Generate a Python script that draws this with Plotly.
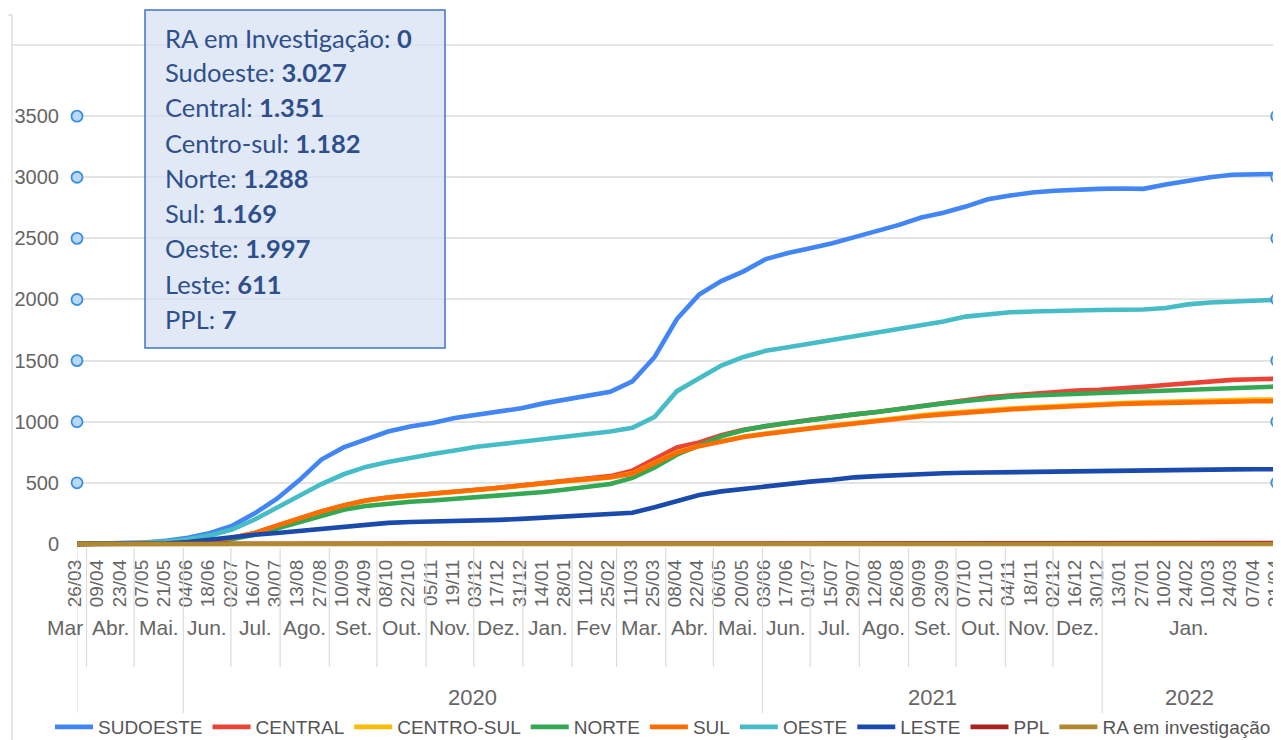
import plotly.graph_objects as go
import pandas as pd

# ---------------- data ----------------
dates = [
    "2020-03-26", "2020-04-09", "2020-04-23", "2020-05-07", "2020-05-21", "2020-06-04", "2020-06-18",
    "2020-07-02", "2020-07-16", "2020-07-30", "2020-08-13", "2020-08-27", "2020-09-10", "2020-09-24",
    "2020-10-08", "2020-10-22", "2020-11-05", "2020-11-19", "2020-12-03", "2020-12-17", "2020-12-31",
    "2021-01-14", "2021-01-28", "2021-02-11", "2021-02-25", "2021-03-11", "2021-03-25", "2021-04-08",
    "2021-04-22", "2021-05-06", "2021-05-20", "2021-06-03", "2021-06-17", "2021-07-01", "2021-07-15",
    "2021-07-29", "2021-08-12", "2021-08-26", "2021-09-09", "2021-09-23", "2021-10-07", "2021-10-21",
    "2021-11-04", "2021-11-18", "2021-12-02", "2021-12-16", "2021-12-30", "2022-01-13", "2022-01-27",
    "2022-02-10", "2022-02-24", "2022-03-10", "2022-03-24", "2022-04-07", "2022-04-21",
]

sudoeste = [0, 2, 5, 12, 25, 50, 90, 150, 250, 370,
            520, 690, 790, 860, 920, 960, 990, 1030, 1055, 1080,
            1110, 1150, 1180, 1210, 1245, 1330, 1530, 1840, 2040, 2150,
            2230, 2330, 2380, 2420, 2460, 2510, 2560, 2610, 2670, 2710,
            2760, 2820, 2850, 2875, 2890, 2900, 2905, 2908, 2905, 2940,
            2970, 3000, 3020, 3027, 3027]
central = [0, 1, 3, 6, 10, 15, 25, 50, 90, 150,
           210, 265, 315, 355, 380, 398, 410, 425, 443, 460,
           480, 500, 515, 535, 555, 600, 700, 790, 830, 890,
           935, 965, 990, 1015, 1040, 1060, 1080, 1105, 1130, 1155,
           1180, 1200, 1215, 1230, 1245, 1255, 1262, 1270, 1285, 1300,
           1315, 1330, 1342, 1348, 1351]
centro_sul = [0, 1, 3, 6, 10, 15, 25, 48, 88, 148,
              208, 263, 313, 353, 378, 396, 408, 423, 441, 458,
              478, 498, 513, 528, 543, 578, 658, 748, 803, 840,
              877, 903, 928, 950, 970, 990, 1012, 1037, 1053, 1068,
              1083, 1098, 1108, 1118, 1128, 1138, 1146, 1153, 1158, 1164,
              1170, 1175, 1178, 1181, 1182]
norte = [0, 1, 2, 4, 8, 12, 20, 40, 75, 125,
         180, 230, 280, 310, 330, 345, 355, 368, 377, 390,
         410, 425, 445, 465, 490, 540, 625, 730, 810, 880,
         930, 965, 990, 1015, 1040, 1060, 1080, 1105, 1130, 1150,
         1170, 1190, 1205, 1215, 1222, 1228, 1232, 1236, 1245, 1255,
         1265, 1273, 1280, 1285, 1288]
sul = [0, 1, 3, 6, 10, 15, 25, 50, 90, 150,
       210, 265, 315, 355, 380, 398, 410, 425, 443, 460,
       480, 500, 515, 530, 545, 575, 655, 745, 800, 840,
       875, 900, 925, 945, 965, 985, 1005, 1030, 1045, 1060,
       1075, 1090, 1100, 1110, 1120, 1130, 1138, 1145, 1150, 1155,
       1160, 1163, 1166, 1168, 1169]
oeste = [0, 2, 5, 10, 20, 40, 70, 120, 200, 300,
         400, 490, 570, 630, 670, 705, 735, 765, 795, 815,
         835, 860, 880, 900, 920, 950, 1040, 1250, 1360, 1460,
         1530, 1580, 1610, 1640, 1670, 1700, 1725, 1755, 1790, 1820,
         1860, 1880, 1895, 1902, 1908, 1912, 1914, 1916, 1918, 1930,
         1960, 1975, 1982, 1988, 1997]
leste = [0, 0, 1, 2, 4, 15, 35, 60, 75, 90,
         108, 125, 145, 160, 172, 180, 182, 185, 192, 197,
         205, 215, 225, 232, 240, 255, 300, 350, 400, 430,
         450, 470, 495, 510, 525, 545, 555, 565, 572, 578,
         582, 585, 587, 589, 590, 592, 600, 603, 605, 606,
         607, 608, 610, 611, 611]
ppl = [0, 0, 0, 0, 0, 0, 0, 0, 0, 0,
       0, 0, 1, 1, 1, 1, 1, 1, 1, 1,
       2, 2, 2, 2, 2, 2, 3, 3, 3, 3,
       4, 4, 4, 4, 4, 4, 5, 5, 5, 5,
       5, 5, 6, 6, 6, 6, 6, 6, 7, 7,
       7, 7, 7, 7, 7]
ra_investigacao = [0] * 55

y_ticks = [0, 500, 1000, 1500, 2000, 2500, 3000, 3500]

month_labels = ["Mar", "Abr.", "Mai.", "Jun.", "Jul.", "Ago.", "Set.", "Out.", "Nov.", "Dez.",
                "Jan.", "Fev", "Mar.", "Abr.", "Mai.", "Jun.", "Jul.", "Ago.", "Set.", "Out.",
                "Nov.", "Dez.", "Jan."]
month_bounds = ["2020-03-26", "2020-04-01", "2020-05-01", "2020-06-01", "2020-07-01", "2020-08-01",
                "2020-09-01", "2020-10-01", "2020-11-01", "2020-12-01", "2021-01-01", "2021-02-01",
                "2021-03-01", "2021-04-01", "2021-05-01", "2021-06-01", "2021-07-01", "2021-08-01",
                "2021-09-01", "2021-10-01", "2021-11-01", "2021-12-01", "2022-01-01", "2022-04-21"]
year_labels = ["", "2020", "2021", "2022"]
year_bounds = ["2020-03-26", "2020-06-01", "2021-06-01", "2022-01-01", "2022-04-21"]

series = [
    ("SUDOESTE", sudoeste, "#4285F4"),
    ("CENTRAL", central, "#EA4335"),
    ("CENTRO-SUL", centro_sul, "#FBBC04"),
    ("NORTE", norte, "#34A853"),
    ("SUL", sul, "#FF6D01"),
    ("OESTE", oeste, "#46BDC6"),
    ("LESTE", leste, "#1A4AAB"),
    ("PPL", ppl, "#A82222"),
    ("RA em investigação", ra_investigacao, "#B0892C"),
]

tooltip_rows = [
    ("RA em Investigação", ra_investigacao),
    ("Sudoeste", sudoeste),
    ("Central", central),
    ("Centro-sul", centro_sul),
    ("Norte", norte),
    ("Sul", sul),
    ("Oeste", oeste),
    ("Leste", leste),
    ("PPL", ppl),
]

# ---------------- geometry (page body has an 8px margin) ----------------
OFF = 8
W, H = 1282, 732
L, R, T, B = 69, 13, 37, 193
PW, PH = W - L - R, H - T - B


def sy(pix):  # screen row -> paper y
    return (H - B - (pix - OFF)) / PH


def sx(pix):  # screen column -> paper x
    return (pix - OFF - L) / PW


NARROW = "Liberation Sans Narrow, Arial Narrow, Liberation Sans, Arial, sans-serif"
GRAY = "#666666"

fig = go.Figure()
for name, vals, color in series:
    fig.add_trace(go.Scatter(x=dates, y=vals, mode="lines", name=name,
                             line=dict(color=color, width=4.6), hoverinfo="skip"))

# axis end circles
circ_y = [v for v in y_ticks if v > 0]
fig.add_trace(go.Scatter(
    x=[dates[0]] * len(circ_y) + [dates[-1]] * len(circ_y),
    y=circ_y + circ_y, mode="markers", showlegend=False, hoverinfo="skip", cliponaxis=False,
    marker=dict(symbol="circle", size=11, color="#b9d9f7", line=dict(color="#3b8fe0", width=1.8))))

shapes = []
annotations = []

# month separators + labels
d = pd.to_datetime(month_bounds)
long_set = set(pd.to_datetime(year_bounds))
for b in d:
    bottom = sy(713) if b in long_set else sy(667)
    shapes.append(dict(type="line", xref="x", yref="paper", x0=b, x1=b, y0=sy(548), y1=bottom,
                       line=dict(color="#dcdcdc", width=1.2)))
MFONT = dict(family=NARROW, size=21, color=GRAY)
for i, lab in enumerate(month_labels):
    if i == 0:
        annotations.append(dict(x=d[1], y=sy(627), xref="x", yref="paper", text=lab, showarrow=False,
                                font=MFONT, xanchor="right", yanchor="middle", xshift=-2))
        continue
    mid = d[i] + (d[i + 1] - d[i]) / 2
    annotations.append(dict(x=mid, y=sy(627), xref="x", yref="paper", text=lab, showarrow=False,
                            font=MFONT, xanchor="center", yanchor="middle"))
yd = pd.to_datetime(year_bounds)
for i, lab in enumerate(year_labels):
    if not lab:
        continue
    mid = yd[i] + (yd[i + 1] - yd[i]) / 2
    annotations.append(dict(x=mid, y=sy(697), xref="x", yref="paper", text=lab, showarrow=False,
                            font=dict(family=NARROW, size=22, color=GRAY), xanchor="center", yanchor="middle"))

# frame lines
shapes.append(dict(type="line", xref="paper", yref="paper", x0=sx(12), x1=sx(1285), y0=sy(45), y1=sy(45),
                   line=dict(color="#dedede", width=1.5)))
shapes.append(dict(type="line", xref="paper", yref="paper", x0=sx(12), x1=sx(12), y0=sy(15), y1=sy(745),
                   line=dict(color="#dedede", width=1.5)))
shapes.append(dict(type="line", xref="paper", yref="paper", x0=sx(8), x1=sx(12), y0=sy(15), y1=sy(15),
                   line=dict(color="#dedede", width=1.5)))

# tooltip box
shapes.append(dict(type="rect", xref="paper", yref="paper", x0=sx(145), x1=sx(445), y0=sy(10), y1=sy(348),
                   fillcolor="rgba(214,224,242,0.72)", line=dict(color="#4472C4", width=1.5), layer="above"))
row_y = [38, 72, 107, 143, 178, 213, 248, 284, 319]
for (lab, vals), yy in zip(tooltip_rows, row_y):
    val = f"{vals[-1]:,}".replace(",", ".")
    annotations.append(dict(x=sx(163), y=sy(yy), xref="paper", yref="paper", showarrow=False,
                            text=f"{lab}: <b>{val}</b>", xanchor="left", yanchor="middle",
                            font=dict(family="Lato, Open Sans, sans-serif", size=25.5, color="#2F4F8C")))

fig.update_layout(
    width=W, height=H, margin=dict(l=L, r=R, t=T, b=B, autoexpand=False),
    paper_bgcolor="white", plot_bgcolor="white",
    showlegend=True,
    legend=dict(orientation="h", x=sx(50), xanchor="left", y=sy(727), yanchor="middle",
                font=dict(family=NARROW, size=19, color="#555555"), itemwidth=38,
                bgcolor="rgba(0,0,0,0)", tracegroupgap=0),
    xaxis=dict(type="date", range=["2020-03-26", "2022-04-21 04:00"], tickvals=dates, tickformat="%d/%m",
               tickangle=-90, showgrid=False, zeroline=False, showline=False, ticks="",
               ticklabelstandoff=8, ticklabeloverflow="allow", ticklabelshift=-2,
               tickfont=dict(family=NARROW, size=19, color=GRAY)),
    yaxis=dict(range=[-25, 4082], tickvals=y_ticks, showgrid=True, gridcolor="#e4e4e4", gridwidth=1.6,
               zeroline=False, showline=False, ticks="", ticklabelstandoff=17,
               tickfont=dict(family=NARROW, size=20, color=GRAY)),
    shapes=shapes, annotations=annotations,
)

fig.write_html("out.html")
